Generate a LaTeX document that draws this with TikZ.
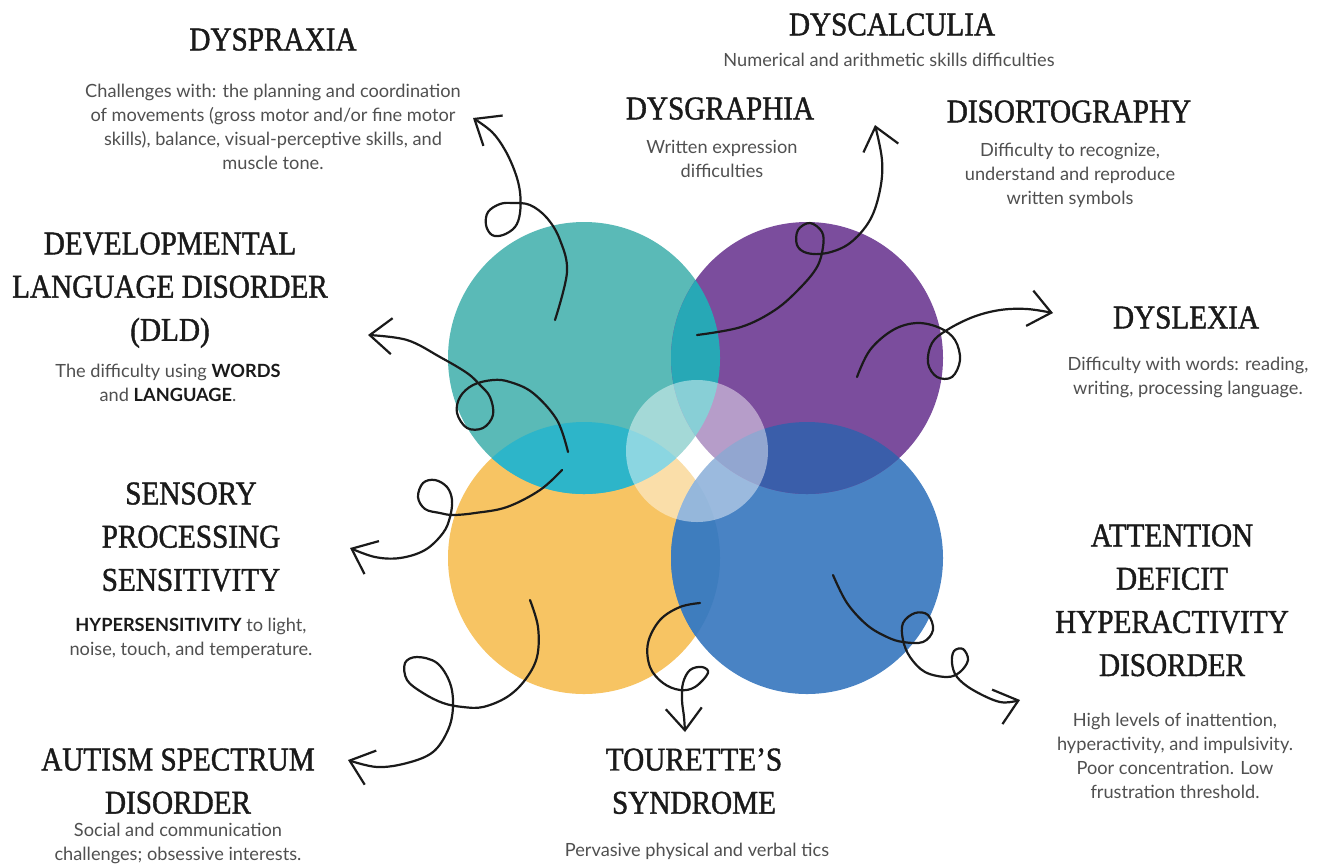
\documentclass[tikz,border=0pt]{standalone}
\usepackage{fontspec}
\newfontfamily\headfont{Liberation Serif}[FakeStretch=0.88,FakeBold=1.2]
\newfontfamily\bodyfont{Lato}
\usetikzlibrary{arrows.meta}

\definecolor{tealc}{HTML}{5ABAB7}
\definecolor{violetc}{HTML}{7B4D9D}
\definecolor{amberc}{HTML}{F7C463}
\definecolor{azurec}{HTML}{4983C4}
\definecolor{tealvioletc}{HTML}{27A8B6}
\definecolor{tealamberc}{HTML}{2DB5C9}
\definecolor{violetazurec}{HTML}{3A5EAA}
\definecolor{amberazurec}{HTML}{3E7DBE}
\definecolor{inkc}{HTML}{1A1A1A}
\definecolor{notec}{HTML}{505050}

\tikzset{
  headtext/.style={anchor=north, inner sep=0pt, align=center, text=inkc,
    font=\headfont\fontsize{16.6}{21.6}\selectfont},
  blurb/.style={anchor=north, inner sep=0pt, align=center, text=notec,
    font=\bodyfont\fontsize{9.1}{12}\selectfont},
  swirl/.style={draw=inkc, line width=1.1pt, line cap=round, line join=round,
    -{Straight Barb[length=11pt,width=18pt,line width=1.1pt]}},
}

\begin{document}
\begin{tikzpicture}[x=0.5pt,y=-0.5pt]
\fill[white] (0,0) rectangle (1322,864);
\useasboundingbox (0,0) rectangle (1322,864);

  \coordinate (teal) at (584,358);
  \coordinate (violet) at (807,358);
  \coordinate (amber) at (584,558);
  \coordinate (azure) at (807,558);
  \coordinate (hub) at (697,451);

  \foreach \c/\col in {amber/amberc, azure/azurec, teal/tealc, violet/violetc}
\fill[\col] (\c) circle[radius=68pt];

  % overlaps
  \begin{scope}
    \clip (teal) circle[radius=68pt];
    \fill[tealvioletc] (violet) circle[radius=68pt];
    \fill[tealamberc] (amber) circle[radius=68pt];
  \end{scope}
  \begin{scope}
    \clip (azure) circle[radius=68pt];
    \fill[violetazurec] (violet) circle[radius=68pt];
    \fill[amberazurec] (amber) circle[radius=68pt];
  \end{scope}
  \fill[white, opacity=0.45] (hub) circle[radius=35.5pt];

  % titles and notes
  \node[headtext] (praxis) at (273,28) {DYSPRAXIA};
  \node[blurb] (praxisnote) at (273,84) {Challenges with: the planning and coordination\\ of movements (gross motor and/or fine motor\\ skills), balance, visual-perceptive skills, and\\ muscle tone.};

  \node[headtext] (calc) at (892,13) {DYSCALCULIA};
  \node[blurb] (calcnote) at (889,53) {Numerical and arithmetic skills difficulties};

  \node[headtext] (graph) at (720,97) {DYSGRAPHIA};
  \node[blurb] (graphnote) at (722,140) {Written expression\\ difficulties};

  \node[headtext] (ortho) at (1069,100) {DISORTOGRAPHY};
  \node[blurb] (orthonote) at (1070,143) {Difficulty to recognize,\\ understand and reproduce\\ written symbols};

  \node[headtext] (dld) at (170,232) {DEVELOPMENTAL\\ LANGUAGE DISORDER\\ (DLD)};
  \node[blurb] (dldnote) at (168,364) {The difficulty using {\bfseries\color{inkc}WORDS}\\ and {\bfseries\color{inkc}LANGUAGE}.};

  \node[headtext] (lexia) at (1186,306) {DYSLEXIA};
  \node[blurb] (lexianote) at (1188,357) {Difficulty with words: reading,\\ writing, processing language.};

  \node[headtext] (sps) at (191,482) {SENSORY\\ PROCESSING\\ SENSITIVITY};
  \node[blurb] (spsnote) at (191,618) {{\bfseries\color{inkc}HYPERSENSITIVITY} to light,\\ noise, touch, and temperature.};

  \node[headtext] (adhd) at (1172,524) {ATTENTION\\ DEFICIT\\ HYPERACTIVITY\\ DISORDER};
  \node[blurb] (adhdnote) at (1175,713) {High levels of inattention,\\ hyperactivity, and impulsivity.\\ Poor concentration. Low\\ frustration threshold.};

  \node[headtext] (asd) at (178,748) {AUTISM SPECTRUM\\ DISORDER};
  \node[blurb] (asdnote) at (178,823) {Social and communication\\ challenges; obsessive interests.};

  \node[headtext] (tourette) at (694,748) {TOURETTE’S\\ SYNDROME};
  \node[blurb] (tourettenote) at (697,843) {Pervasive physical and verbal tics};

  % curly arrows
  \coordinate (praxisfrom) at (555,320);
  \coordinate (praxisto) at (473,118);
  \coordinate (calcfrom) at (697,335);
  \coordinate (calcto) at (875,125);
  \coordinate (lexiafrom) at (857,377);
  \coordinate (lexiato) at (1053,313);
  \coordinate (dldfrom) at (568,452);
  \coordinate (dldto) at (368,335);
  \coordinate (spsfrom) at (562,470);
  \coordinate (spsto) at (350,548);
  \coordinate (asdfrom) at (530,600);
  \coordinate (asdto) at (348,760);
  \coordinate (tourettefrom) at (700,603);
  \coordinate (touretteto) at (685,732);
  \coordinate (adhdfrom) at (833,575);
  \coordinate (adhdto) at (1020,700);

  \draw[swirl] plot[smooth, tension=0.6] coordinates {(praxisfrom) (567,272) (560,240) (547,218) (530,205) (513,203) (500,204) (488,212) (486,225) (492,235) (503,235) (515,227) (520,213) (520,192) (515,172) (505,150) (492,132) (praxisto)};
  \draw[swirl] plot[smooth, tension=0.6] coordinates {(calcfrom) (741,327) (775,310) (800,288) (817,267) (823,247) (822,232) (810,223) (798,230) (797,245) (807,253) (827,253) (850,243) (870,220) (880,190) (882,160) (calcto)};
  \draw[swirl] plot[smooth, tension=0.6] coordinates {(lexiafrom) (870,350) (893,330) (917,323) (940,328) (955,340) (960,360) (952,377) (937,377) (928,363) (932,343) (947,330) (973,317) (1000,310) (1027,309) (lexiato)};
  \draw[swirl] plot[smooth, tension=0.6] coordinates {(dldfrom) (557,420) (533,393) (510,382) (493,380) (473,385) (460,397) (457,413) (467,428) (483,428) (493,415) (490,397) (480,385) (467,373) (440,357) (407,340) (dldto)};
  \draw[swirl] plot[smooth, tension=0.6] coordinates {(spsfrom) (540,490) (507,507) (475,513) (453,515) (440,513) (425,509) (418,497) (423,483) (435,480) (447,487) (452,500) (450,517) (443,533) (425,550) (400,558) (375,557) (spsto)};
  \draw[swirl] plot[smooth, tension=0.6] coordinates {(asdfrom) (538,627) (537,657) (525,680) (507,697) (483,707) (463,707) (443,703) (423,693) (407,680) (405,663) (417,657) (437,663) (450,683) (453,707) (448,730) (433,752) (407,763) (377,767) (asdto)};
  \draw[swirl] plot[smooth, tension=0.6] coordinates {(tourettefrom) (680,607) (660,620) (648,643) (650,667) (663,683) (680,690) (695,687) (708,673) (702,667) (690,670) (683,683) (682,700) (684,717) (touretteto)};
  \draw[swirl] plot[smooth, tension=0.6] coordinates {(adhdfrom) (847,603) (867,625) (887,637) (903,642) (923,642) (933,630) (928,615) (915,613) (903,623) (903,640) (910,657) (925,672) (947,677) (960,672) (968,660) (963,649) (954,651) (952,663) (957,677) (973,690) (1000,702) (adhdto)};

\end{tikzpicture}
\end{document}
